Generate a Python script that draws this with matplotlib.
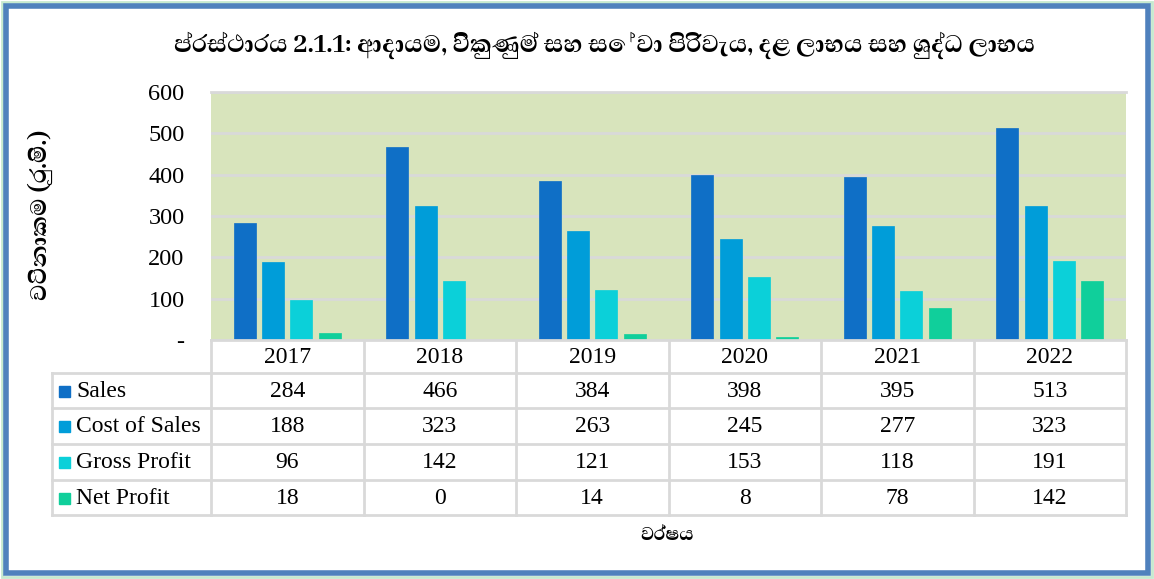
import matplotlib
matplotlib.use('Agg')
import matplotlib.pyplot as plt
from matplotlib.patches import Rectangle
from matplotlib.lines import Line2D
import numpy as np

years = ['2017', '2018', '2019', '2020', '2021', '2022']
series = ['Sales', 'Cost of Sales', 'Gross Profit', 'Net Profit']
sales = [284, 466, 384, 398, 395, 513]
cost_of_sales = [188, 323, 263, 245, 277, 323]
gross_profit = [96, 142, 121, 153, 118, 191]
net_profit = [18, 0, 14, 8, 78, 142]
values = [sales, cost_of_sales, gross_profit, net_profit]
colors = ['#0F6FC6', '#009DD9', '#0BD0D9', '#10CF9B']

title = 'ප්රස්ථාරය 2.1.1: ආදායම, විකුණුම් සහ සේවා පිරිවැය, දළ ලාභය සහ ශුද්ධ ලාභය'
ylabel = 'වටිනාකම (රු.මි.)'
xlabel = 'වර්ෂය'

serif = ['Liberation Serif', 'DejaVu Serif']
sin_family = ['Abhaya Libre', 'Noto Serif Sinhala', 'Liberation Serif', 'DejaVu Serif']

W, H = 1154, 579
fig = plt.figure(figsize=(W / 100, H / 100), dpi=100)


def fx(px):
    return px / W


def fy(py):
    return 1 - py / H


# outer frame
fig.patches.append(Rectangle((fx(2), fy(577)), fx(1150), 575 / H, transform=fig.transFigure,
                             fill=False, edgecolor='#C6E9CF', lw=2))
fig.patches.append(Rectangle((fx(6), fy(573)), fx(1142), 567 / H, transform=fig.transFigure,
                             fill=False, edgecolor='#4F81BD', lw=4))

left, right, top, bottom = 211, 1126, 92, 340
ax = fig.add_axes([fx(left), fy(bottom), fx(right - left), (bottom - top) / H])
ax.set_facecolor('#D8E4BC')

x = np.arange(len(years))
bw = 0.145
gap = 0.04
offs = (np.arange(4) - 1.5) * (bw + gap)
for i, s in enumerate(series):
    ax.bar(x + offs[i], values[i], bw, color=colors[i], edgecolor=colors[i], lw=0.5, zorder=3)

ax.set_xlim(-0.5, len(years) - 0.5)
ax.set_ylim(0, 600)
ax.set_yticks([0, 100, 200, 300, 400, 500, 600])
ax.set_yticklabels(['-', '100', '200', '300', '400', '500', '600'],
                   family=serif, fontsize=17.5)
ax.tick_params(axis='y', length=0, pad=19)
ax.set_xticks([])
ax.grid(axis='y', color='#D9D9D9', lw=2, zorder=1)
for sp in ax.spines.values():
    sp.set_visible(False)
ax.spines['top'].set_visible(True)
ax.spines['top'].set_color('#D9D9D9')
ax.spines['top'].set_linewidth(2)

# data table below the plot
line_c = '#D9D9D9'
rows_y = [340, 373, 408, 444, 480, 515]
col_w = (right - left) / len(years)
cols_x = [left + k * col_w for k in range(len(years) + 1)]
label_x0 = 52


def hline(x0, x1, y):
    fig.lines.append(Line2D([fx(x0), fx(x1)], [fy(y), fy(y)], transform=fig.transFigure,
                            color=line_c, lw=2))


def vline(x0, y0, y1):
    fig.lines.append(Line2D([fx(x0), fx(x0)], [fy(y0), fy(y1)], transform=fig.transFigure,
                            color=line_c, lw=2))


hline(left, right, rows_y[0])
for y in rows_y[1:]:
    hline(label_x0, right, y)
for cx in cols_x:
    vline(cx, rows_y[0], rows_y[-1])
vline(label_x0, rows_y[1], rows_y[-1])

for j, yr in enumerate(years):
    cx = (cols_x[j] + cols_x[j + 1]) / 2
    fig.text(fx(cx), fy((rows_y[0] + rows_y[1]) / 2 + 1), yr, ha='center', va='center',
             family=serif, fontsize=17)

for i, s in enumerate(series):
    cy = (rows_y[i + 1] + rows_y[i + 2]) / 2
    fig.patches.append(Rectangle((fx(59), fy(cy + 6)), fx(11), 11 / H,
                                 transform=fig.transFigure, color=colors[i]))
    fig.text(fx(76), fy(cy + 1), s, ha='left', va='center', family=serif, fontsize=17)
    for j in range(len(years)):
        cx = (cols_x[j] + cols_x[j + 1]) / 2
        fig.text(fx(cx), fy(cy + 1), str(values[i][j]), ha='center', va='center',
                 family=serif, fontsize=17)

fig.text(fx(605), fy(45), title, ha='center', va='center', family=sin_family,
         fontsize=22, fontweight='bold')
fig.text(fx(40), fy(215), ylabel, ha='center', va='center', rotation=90,
         family=sin_family, fontsize=21, fontweight='bold')
fig.text(fx(667), fy(535), xlabel, ha='center', va='center', family=sin_family,
         fontsize=17, fontweight='bold')

fig.savefig('out.png', dpi=100, facecolor='white')
